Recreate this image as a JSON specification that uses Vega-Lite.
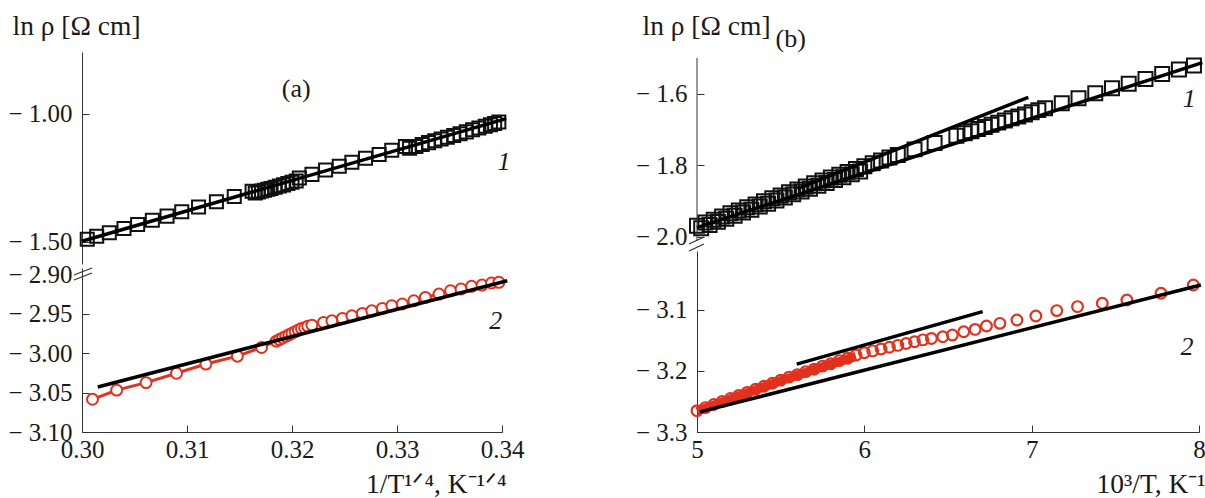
{
  "$schema": "https://vega.github.io/schema/vega-lite/v6.json",
  "padding": {"left": 7, "top": 12, "right": 0, "bottom": 0},
  "background": "white",
  "bounds": "flush",
  "spacing": 615,
  "config": {
    "view": {"stroke": null},
    "font": "Liberation Serif",
    "axis": {"labelFont": "Liberation Serif", "labelFontSize": 25, "labelColor": "#1a1a1a", "labelFlush": false, "labelOverlap": false, "titleFont": "Liberation Serif", "titleFontSize": 27.5, "titleFontWeight": "normal", "titleColor": "#1a1a1a", "domainColor": "#333333", "tickColor": "#333333", "tickSize": -7, "grid": false},
    "axisX": {"labelPadding": 12},
    "axisY": {"labelPadding": 17, "labelOverlap": false, "labelExpr": "replace(datum.label, '−', '− ')"}
  },
  "datasets": {
    "a1": [
      {"x":0.3005,"y":-1.489},{"x":0.3014,"y":-1.478},{"x":0.3026,"y":-1.464},{"x":0.3040,"y":-1.447},{"x":0.3053,"y":-1.432},{"x":0.3067,"y":-1.415},{"x":0.3081,"y":-1.399},{"x":0.3095,"y":-1.382},{"x":0.3111,"y":-1.363},{"x":0.3128,"y":-1.343},{"x":0.3145,"y":-1.322},{"x":0.3162,"y":-1.302},
      {"x":0.3165,"y":-1.309},{"x":0.3168,"y":-1.305},{"x":0.3171,"y":-1.301},{"x":0.3174,"y":-1.298},{"x":0.3177,"y":-1.294},{"x":0.3180,"y":-1.291},{"x":0.3184,"y":-1.286},{"x":0.3188,"y":-1.281},{"x":0.3192,"y":-1.277},{"x":0.3196,"y":-1.272},{"x":0.3200,"y":-1.267},{"x":0.3204,"y":-1.262},
      {"x":0.3207,"y":-1.250},{"x":0.3219,"y":-1.236},{"x":0.3232,"y":-1.219},{"x":0.3245,"y":-1.204},{"x":0.3257,"y":-1.189},{"x":0.3270,"y":-1.173},{"x":0.3283,"y":-1.158},{"x":0.3295,"y":-1.142},{"x":0.3308,"y":-1.127},
      {"x":0.3312,"y":-1.134},{"x":0.3318,"y":-1.127},{"x":0.3324,"y":-1.119},{"x":0.3330,"y":-1.112},{"x":0.3336,"y":-1.105},{"x":0.3342,"y":-1.098},{"x":0.3348,"y":-1.091},{"x":0.3354,"y":-1.084},{"x":0.3360,"y":-1.077},{"x":0.3366,"y":-1.070},{"x":0.3372,"y":-1.062},{"x":0.3378,"y":-1.055},{"x":0.3384,"y":-1.048},{"x":0.3389,"y":-1.042},{"x":0.3393,"y":-1.037},{"x":0.3397,"y":-1.031}
    ],
    "a2": [
      {"x":0.3010,"y":-3.0586},{"x":0.3033,"y":-3.047},{"x":0.3061,"y":-3.0375},{"x":0.3090,"y":-3.0256},{"x":0.3118,"y":-3.014},{"x":0.3148,"y":-3.004},{"x":0.3171,"y":-2.993},{"x":0.3185,"y":-2.985},
      {"x":0.3188,"y":-2.983},{"x":0.3191,"y":-2.981},{"x":0.3194,"y":-2.979},{"x":0.3197,"y":-2.977},{"x":0.3200,"y":-2.975},{"x":0.3203,"y":-2.973},{"x":0.3206,"y":-2.971},{"x":0.3209,"y":-2.969},{"x":0.3212,"y":-2.968},{"x":0.3215,"y":-2.966},
      {"x":0.3219,"y":-2.9647},{"x":0.3230,"y":-2.9613},{"x":0.3238,"y":-2.9593},{"x":0.3248,"y":-2.9562},{"x":0.3257,"y":-2.9529},{"x":0.3267,"y":-2.9499},{"x":0.3276,"y":-2.9466},{"x":0.3286,"y":-2.9435},{"x":0.3295,"y":-2.9402},{"x":0.3305,"y":-2.938},{"x":0.3316,"y":-2.9339},{"x":0.3327,"y":-2.9296},{"x":0.3340,"y":-2.9254},{"x":0.3351,"y":-2.9212},{"x":0.3361,"y":-2.919},{"x":0.3371,"y":-2.9156},{"x":0.3381,"y":-2.914},{"x":0.3390,"y":-2.9114},{"x":0.3397,"y":-2.9105}
    ],
    "b1": [
      {"x":5.00,"y":-1.970},{"x":5.05,"y":-1.961},{"x":5.10,"y":-1.953},{"x":5.15,"y":-1.944},{"x":5.20,"y":-1.935},{"x":5.25,"y":-1.927},{"x":5.30,"y":-1.918},{"x":5.35,"y":-1.910},{"x":5.40,"y":-1.901},{"x":5.45,"y":-1.893},{"x":5.50,"y":-1.885},{"x":5.55,"y":-1.876},{"x":5.60,"y":-1.868},{"x":5.65,"y":-1.860},{"x":5.70,"y":-1.851},{"x":5.75,"y":-1.843},{"x":5.80,"y":-1.835},{"x":5.85,"y":-1.827},{"x":5.90,"y":-1.819},{"x":5.95,"y":-1.811},{"x":6.00,"y":-1.803},{"x":6.05,"y":-1.795},{"x":6.10,"y":-1.787},{"x":6.15,"y":-1.779},{"x":6.20,"y":-1.772},
      {"x":5.025,"y":-1.977},{"x":5.075,"y":-1.968},{"x":5.125,"y":-1.959},{"x":5.175,"y":-1.950},{"x":5.225,"y":-1.942},{"x":5.275,"y":-1.933},{"x":5.325,"y":-1.925},{"x":5.375,"y":-1.916},{"x":5.425,"y":-1.908},{"x":5.475,"y":-1.899},{"x":5.525,"y":-1.891},{"x":5.575,"y":-1.882},{"x":5.625,"y":-1.874},{"x":5.675,"y":-1.866},{"x":5.725,"y":-1.858},{"x":5.775,"y":-1.850},{"x":5.825,"y":-1.842},{"x":5.875,"y":-1.834},{"x":5.925,"y":-1.826},{"x":5.975,"y":-1.818},
      {"x":6.30,"y":-1.756},{"x":6.42,"y":-1.738},{"x":6.55,"y":-1.718},
      {"x":6.60,"y":-1.711},{"x":6.64,"y":-1.705},{"x":6.68,"y":-1.699},{"x":6.72,"y":-1.693},{"x":6.76,"y":-1.687},{"x":6.80,"y":-1.681},{"x":6.84,"y":-1.675},{"x":6.88,"y":-1.669},{"x":6.92,"y":-1.664},{"x":6.96,"y":-1.658},{"x":7.00,"y":-1.652},{"x":7.04,"y":-1.646},{"x":7.08,"y":-1.641},
      {"x":7.18,"y":-1.627},{"x":7.28,"y":-1.613},{"x":7.38,"y":-1.599},{"x":7.48,"y":-1.585},{"x":7.58,"y":-1.572},{"x":7.68,"y":-1.559},{"x":7.78,"y":-1.545},{"x":7.88,"y":-1.532},{"x":7.97,"y":-1.521}
    ],
    "b2": [
      {"x":5.00,"y":-3.265},{"x":5.05,"y":-3.260},{"x":5.10,"y":-3.255},{"x":5.15,"y":-3.250},{"x":5.20,"y":-3.245},{"x":5.25,"y":-3.240},{"x":5.30,"y":-3.235},{"x":5.35,"y":-3.230},{"x":5.40,"y":-3.225},{"x":5.45,"y":-3.220},{"x":5.50,"y":-3.215},{"x":5.55,"y":-3.210},{"x":5.60,"y":-3.206},{"x":5.65,"y":-3.201},{"x":5.70,"y":-3.197},{"x":5.75,"y":-3.192},{"x":5.80,"y":-3.188},{"x":5.85,"y":-3.183},{"x":5.90,"y":-3.179},{"x":5.95,"y":-3.174},{"x":6.00,"y":-3.170},{"x":6.05,"y":-3.167},{"x":6.10,"y":-3.164},{"x":6.15,"y":-3.161},{"x":6.20,"y":-3.158},{"x":6.25,"y":-3.155},{"x":6.30,"y":-3.152},{"x":6.35,"y":-3.149},
      {"x":6.401,"y":-3.1466},{"x":6.469,"y":-3.1438},{"x":6.526,"y":-3.1411},{"x":6.594,"y":-3.1356},{"x":6.662,"y":-3.1318},{"x":6.730,"y":-3.1263},{"x":6.810,"y":-3.1219},{"x":6.912,"y":-3.1164},{"x":7.025,"y":-3.1099},{"x":7.150,"y":-3.101},{"x":7.274,"y":-3.0945},{"x":7.422,"y":-3.089},{"x":7.569,"y":-3.0836},{"x":7.773,"y":-3.0726},{"x":7.966,"y":-3.059}
    ],
    "b2band": [
      {"x":5.00,"y":-3.266},{"x":5.25,"y":-3.241},{"x":5.50,"y":-3.216},{"x":5.75,"y":-3.193},{"x":5.95,"y":-3.176}
    ],
    "fits": [
      {"line":"a1","x":0.3000,"y":-1.497},{"line":"a1","x":0.3404,"y":-1.018},
      {"line":"a2","x":0.3015,"y":-3.043},{"line":"a2","x":0.3405,"y":-2.9085},
      {"line":"b1m","x":5.0,"y":-1.975},{"line":"b1m","x":8.02,"y":-1.513},
      {"line":"b1s","x":5.6,"y":-1.866},{"line":"b1s","x":6.98,"y":-1.61},
      {"line":"b2l","x":5.018,"y":-3.267},{"line":"b2l","x":8.011,"y":-3.059},
      {"line":"b2s","x":5.596,"y":-3.1888},{"line":"b2s","x":6.707,"y":-3.1027}
    ]
  },
  "hconcat": [
    {
      "bounds": "flush",
      "spacing": 4,
      "vconcat": [
        {
          "width": 420, "height": 212,
          "layer": [
            {"data": {"name": "a1"}, "mark": {"type": "point", "shape": "square", "filled": false, "stroke": "#111", "strokeWidth": 2, "size": 170, "opacity": 1},
             "encoding": {
               "x": {"field": "x", "type": "quantitative", "scale": {"domain": [0.30, 0.34], "nice": false, "zero": false}, "axis": null},
               "y": {"field": "y", "type": "quantitative", "scale": {"domain": [-1.586, -0.758], "nice": false, "zero": false},
                     "axis": {"values": [-1.0, -1.5], "format": ".2f", "labelFont": "Liberation Serif", "labelOverlap": false, "title": "ln ρ [Ω cm]", "titleAngle": 0, "titleAlign": "left", "titleBaseline": "middle", "titleX": -70, "titleY": -26}}}},
            {"data": {"name": "fits"}, "transform": [{"filter": "datum.line == 'a1'"}], "mark": {"type": "line", "color": "#000", "strokeWidth": 3.5},
             "encoding": {"x": {"field": "x", "type": "quantitative"}, "y": {"field": "y", "type": "quantitative"}}},
            {"data": {"values": [{"x": 0.3204, "y": -0.902, "t": "(a)"}]}, "mark": {"type": "text", "font": "Liberation Serif", "fontSize": 26, "color": "#1a1a1a"},
             "encoding": {"x": {"field": "x", "type": "quantitative"}, "y": {"field": "y", "type": "quantitative"}, "text": {"field": "t"}}},
            {"data": {"values": [{"x": 0.3402, "y": -1.1875, "t": "1"}]}, "mark": {"type": "text", "font": "Liberation Serif", "fontSize": 26, "fontStyle": "italic", "color": "#1a1a1a"},
             "encoding": {"x": {"field": "x", "type": "quantitative"}, "y": {"field": "y", "type": "quantitative"}, "text": {"field": "t"}}}
          ]
        },
        {
          "width": 420, "height": 164,
          "layer": [
            {"data": {"name": "a2"}, "mark": {"type": "line", "color": "#e2311d", "strokeWidth": 3},
             "encoding": {
               "x": {"field": "x", "type": "quantitative", "scale": {"domain": [0.30, 0.34], "nice": false, "zero": false},
                     "axis": {"values": [0.30, 0.31, 0.32, 0.33, 0.34], "format": ".2f", "labelFont": "Liberation Serif", "title": "1/T¹ᐟ⁴, K⁻¹ᐟ⁴", "titleAnchor": "end", "titleAlign": "right", "titleBaseline": "alphabetic", "titleX": 424, "titleY": 60}},
               "y": {"field": "y", "type": "quantitative", "scale": {"domain": [-3.10, -2.8924], "nice": false, "zero": false},
                     "axis": {"values": [-2.90, -2.95, -3.00, -3.05, -3.10], "format": ".2f", "labelFont": "Liberation Serif", "labelOverlap": false, "title": null, "tickOpacity": {"condition": {"test": "datum.value > -2.91", "value": 0}, "value": 1}}}}},
            {"data": {"name": "a2"}, "mark": {"type": "point", "shape": "circle", "filled": true, "fill": "white", "stroke": "#e2311d", "strokeWidth": 2, "size": 120, "opacity": 1},
             "encoding": {"x": {"field": "x", "type": "quantitative"}, "y": {"field": "y", "type": "quantitative"}}},
            {"data": {"name": "fits"}, "transform": [{"filter": "datum.line == 'a2'"}], "mark": {"type": "line", "color": "#000", "strokeWidth": 3.5},
             "encoding": {"x": {"field": "x", "type": "quantitative"}, "y": {"field": "y", "type": "quantitative"}}},
            {"data": {"values": [{"x": 0.29924, "y": -2.9013, "x2": 0.30095, "y2": -2.8924}, {"x": 0.29924, "y": -2.9076, "x2": 0.30095, "y2": -2.8987}]},
             "mark": {"type": "rule", "color": "#333333", "strokeWidth": 1.2},
             "encoding": {"x": {"field": "x", "type": "quantitative"}, "y": {"field": "y", "type": "quantitative"}, "x2": {"field": "x2"}, "y2": {"field": "y2"}}},
            {"data": {"values": [{"x": 0.3394, "y": -2.9596, "t": "2"}]}, "mark": {"type": "text", "font": "Liberation Serif", "fontSize": 26, "fontStyle": "italic", "color": "#1a1a1a"},
             "encoding": {"x": {"field": "x", "type": "quantitative"}, "y": {"field": "y", "type": "quantitative"}, "text": {"field": "t"}}}
          ]
        }
      ]
    },
    {
      "bounds": "flush",
      "spacing": 10,
      "vconcat": [
        {
          "width": 502, "height": 189,
          "layer": [
            {"data": {"name": "b1"}, "mark": {"type": "point", "shape": "square", "filled": false, "stroke": "#111", "strokeWidth": 2, "size": 195, "opacity": 1},
             "encoding": {
               "x": {"field": "x", "type": "quantitative", "scale": {"domain": [5, 8], "nice": false, "zero": false}, "axis": null},
               "y": {"field": "y", "type": "quantitative", "scale": {"domain": [-2.0126, -1.4832], "nice": false, "zero": false},
                     "axis": {"values": [-1.5, -1.6, -1.7, -1.8, -1.9, -2.0], "format": ".1f", "labelFont": "Liberation Serif", "labelOverlap": false, "labelSeparation": 0, "domain": false, "title": "ln ρ [Ω cm]", "titleAngle": 0, "titleAlign": "left", "titleBaseline": "middle", "titleX": -55, "titleY": -26}}}},
            {"data": {"values": [{"x": 5, "y": -1.5, "y2": -2.0126}]}, "mark": {"type": "rule", "color": "#333333", "strokeWidth": 1},
             "encoding": {"x": {"field": "x", "type": "quantitative"}, "y": {"field": "y", "type": "quantitative"}, "y2": {"field": "y2"}}},
            {"data": {"name": "fits"}, "transform": [{"filter": "datum.line == 'b1m' || datum.line == 'b1s'"}], "mark": {"type": "line", "color": "#000", "strokeWidth": 3.5},
             "encoding": {"x": {"field": "x", "type": "quantitative"}, "y": {"field": "y", "type": "quantitative"}, "detail": {"field": "line"}}},
            {"data": {"values": [{"x": 5.56, "y": -1.4468, "t": "(b)"}]}, "mark": {"type": "text", "font": "Liberation Serif", "fontSize": 26, "color": "#1a1a1a"},
             "encoding": {"x": {"field": "x", "type": "quantitative"}, "y": {"field": "y", "type": "quantitative"}, "text": {"field": "t"}}},
            {"data": {"values": [{"x": 7.941, "y": -1.615, "t": "1"}]}, "mark": {"type": "text", "font": "Liberation Serif", "fontSize": 26, "fontStyle": "italic", "color": "#1a1a1a"},
             "encoding": {"x": {"field": "x", "type": "quantitative"}, "y": {"field": "y", "type": "quantitative"}, "text": {"field": "t"}}}
          ]
        },
        {
          "width": 502, "height": 181,
          "layer": [
            {"data": {"name": "b2band"}, "mark": {"type": "line", "color": "#e2311d", "strokeWidth": 9},
             "encoding": {
               "x": {"field": "x", "type": "quantitative", "scale": {"domain": [5, 8], "nice": false, "zero": false},
                     "axis": {"values": [5, 6, 7, 8], "format": "d", "labelFont": "Liberation Serif", "title": "10³/T, K⁻¹", "titleAnchor": "end", "titleAlign": "right", "titleBaseline": "alphabetic", "titleX": 508, "titleY": 60}},
               "y": {"field": "y", "type": "quantitative", "scale": {"domain": [-3.3, -3.0033], "nice": false, "zero": false},
                     "axis": {"values": [-3.1, -3.2, -3.3], "format": ".1f", "labelFont": "Liberation Serif", "labelOverlap": false, "title": null}}}},
            {"data": {"name": "b2"}, "mark": {"type": "point", "shape": "circle", "filled": false, "stroke": "#e2311d", "strokeWidth": 2.2, "size": 115, "opacity": 1},
             "encoding": {"x": {"field": "x", "type": "quantitative"}, "y": {"field": "y", "type": "quantitative"}}},
            {"data": {"name": "fits"}, "transform": [{"filter": "datum.line == 'b2l' || datum.line == 'b2s'"}], "mark": {"type": "line", "color": "#000", "strokeWidth": 3.5},
             "encoding": {"x": {"field": "x", "type": "quantitative"}, "y": {"field": "y", "type": "quantitative"}, "detail": {"field": "line"}}},
            {"data": {"values": [{"x": 4.952, "y": -2.9918, "x2": 5.042, "y2": -2.9803}, {"x": 4.952, "y": -3.0033, "x2": 5.042, "y2": -2.9918}]},
             "mark": {"type": "rule", "color": "#333333", "strokeWidth": 1.2},
             "encoding": {"x": {"field": "x", "type": "quantitative"}, "y": {"field": "y", "type": "quantitative"}, "x2": {"field": "x2"}, "y2": {"field": "y2"}}},
            {"data": {"values": [{"x": 7.929, "y": -3.1607, "t": "2"}]}, "mark": {"type": "text", "font": "Liberation Serif", "fontSize": 26, "fontStyle": "italic", "color": "#1a1a1a"},
             "encoding": {"x": {"field": "x", "type": "quantitative"}, "y": {"field": "y", "type": "quantitative"}, "text": {"field": "t"}}}
          ]
        }
      ]
    }
  ]
}
